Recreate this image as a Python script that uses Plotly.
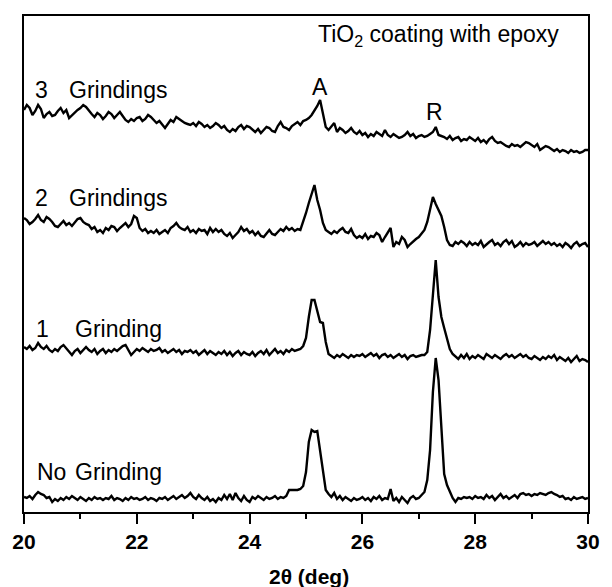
import numpy as np
import plotly.graph_objects as go

# 2-theta grid (deg), 0.05 step
two_theta = np.round(np.arange(20.0, 30.0001, 0.05), 2)

# Intensities (a.u.), offset stacks included
no_grinding = [
    15,14,16,13,17,20,18,17,14,15,
    10,13,11,14,12,15,13,16,14,12,
    15,13,11,14,12,15,13,14,12,14,
    13,16,12,14,13,11,14,12,15,13,
    14,12,13,15,12,14,13,11,14,13,
    15,12,14,16,13,15,17,14,16,19,
    15,13,17,14,12,15,11,13,10,14,
    12,17,13,18,12,19,14,11,16,12,
    10,15,13,16,14,12,15,13,14,16,
    13,15,14,16,22,22,22,22,23,26,
    40,70,82,80,81,60,38,22,18,15,
    19,13,16,12,15,13,11,14,12,13,
    15,12,14,11,15,13,16,12,14,13,
    23,11,14,10,15,12,9,14,16,13,
    14,17,20,32,62,120,154,132,88,38,
    27,21,14,10,14,13,15,14,15,13,
    16,14,15,13,17,14,16,12,15,18,
    14,16,13,15,17,14,18,19,17,18,
    16,18,17,19,18,17,19,20,18,17,
    15,16,13,14,12,15,13,14,15,13,
    14,
]

one_grinding = [
    165,163,166,162,164,169,165,163,166,162,
    160,163,161,165,167,164,160,157,161,163,
    159,162,165,162,160,163,158,161,163,159,
    162,160,163,161,164,166,167,162,157,160,
    163,161,164,162,160,163,161,162,164,160,
    162,159,161,163,160,162,158,161,160,162,
    159,161,157,160,162,158,161,159,157,160,
    158,161,157,160,156,159,161,157,160,158,
    157,160,156,159,161,158,162,157,160,163,
    159,161,158,162,160,163,161,162,163,166,
    174,195,212,212,200,190,189,170,158,156,
    154,157,155,158,156,154,157,155,157,156,
    158,155,157,159,156,158,154,157,158,155,
    157,154,156,158,155,157,153,156,157,155,
    156,157,157,160,182,222,252,215,195,184,
    174,163,158,155,153,157,154,158,153,156,
    154,157,155,153,158,156,154,157,155,153,
    156,158,155,157,154,156,158,155,157,154,
    153,156,154,152,155,153,156,154,157,152,
    155,153,151,154,150,153,156,151,153,152,
    150,
]

two_grindings = [
    294,292,288,290,293,297,292,290,295,293,
    290,286,285,288,291,287,289,286,290,293,
    294,290,288,287,283,285,280,282,279,284,
    282,286,285,281,284,287,289,285,288,296,
    294,284,281,283,279,281,279,282,278,280,
    282,279,284,286,289,285,283,282,285,280,
    282,279,283,281,282,278,284,280,283,280,
    282,278,276,279,274,277,280,285,281,283,
    279,281,277,280,276,275,279,282,278,277,
    280,283,281,285,282,284,281,283,282,290,
    299,309,318,327,312,302,289,282,280,278,
    281,279,282,284,280,279,283,277,274,276,
    274,278,273,276,275,279,277,270,275,279,
    284,265,270,268,275,272,265,268,271,273,
    275,278,282,290,304,315,308,302,296,285,
    272,267,266,270,268,271,269,266,270,267,
    269,267,271,265,268,270,272,267,269,266,
    270,272,268,271,265,267,270,266,269,267,
    268,270,266,269,271,268,270,267,269,266,
    268,265,269,267,264,268,270,266,268,269,
    265,
]

three_grindings = [
    402,407,404,397,401,407,403,394,398,400,
    396,397,401,404,399,402,394,397,400,402,
    404,407,405,401,398,395,399,397,393,396,
    400,398,394,397,400,396,392,390,393,391,
    394,395,391,393,397,395,392,389,391,388,
    384,388,392,390,395,393,391,389,388,387,
    389,386,390,388,385,387,384,386,389,387,
    384,386,382,380,383,381,385,387,383,386,
    385,382,380,383,379,382,385,384,381,380,
    386,390,385,384,382,386,388,390,387,391,
    392,394,397,401,406,412,399,385,382,386,
    389,380,384,382,379,381,384,380,378,381,
    377,379,375,378,376,380,378,376,382,377,
    375,378,376,374,375,377,380,376,378,374,
    376,377,375,376,378,380,385,377,376,375,
    373,376,372,374,375,371,373,372,375,373,
    371,374,370,372,369,373,375,371,369,370,
    368,366,365,368,366,367,365,368,370,369,
    367,365,368,362,364,366,365,363,361,363,
    360,362,361,359,362,360,361,359,360,362,
    362,
]

series = [no_grinding, one_grinding, two_grindings, three_grindings]

x_ticks = [20, 22, 24, 26, 28, 30]

# Text labels: (text, x, y)
labels = [
    ("3", 20.31, 422), ("Grindings", 21.67, 422),
    ("2", 20.31, 314), ("Grindings", 21.67, 314),
    ("1", 20.33, 183), ("Grinding", 21.68, 183),
    ("No", 20.49, 40), ("Grinding", 21.68, 40),
    ("A", 25.24, 425), ("R", 27.28, 400),
    ("TiO<sub>2</sub> coating with epoxy", 27.35, 477),
]

fig = go.Figure()
for s in series:
    fig.add_trace(go.Scatter(x=two_theta, y=s, mode="lines",
                             line=dict(color="black", width=2.4),
                             showlegend=False, hoverinfo="skip"))

for txt, lx, ly in labels:
    fig.add_annotation(x=lx, y=ly, xref="x", yref="y", text=txt, showarrow=False,
                       font=dict(family="Liberation Sans, Arial", size=23, color="black"),
                       xanchor="center", yanchor="middle")

fig.add_annotation(x=0.505, y=-0.131, xref="paper", yref="paper", text="2θ (deg)",
                   showarrow=False, xanchor="center", yanchor="middle",
                   font=dict(family="Liberation Sans, Arial", size=21, color="black", weight="bold"))

fig.update_layout(
    width=612, height=587,
    margin=dict(l=20, r=13, t=16, b=75),
    paper_bgcolor="white", plot_bgcolor="white",
    xaxis=dict(range=[20, 30], tickvals=x_ticks, ticks="outside", ticklen=10, tickwidth=2,
               tickcolor="black", showline=True, linewidth=2, linecolor="black", mirror=True,
               showgrid=False, zeroline=False,
               tickfont=dict(family="Liberation Sans, Arial", size=21, color="black", weight="bold"),
               minor=dict(tickvals=[21, 23, 25, 27, 29], ticks="outside", ticklen=5,
                          tickwidth=2, tickcolor="black", showgrid=False)),
    yaxis=dict(range=[0, 496], showticklabels=False, ticks="", showline=True, linewidth=2,
               linecolor="black", mirror=True, showgrid=False, zeroline=False),
)

fig.write_html("out.html")
